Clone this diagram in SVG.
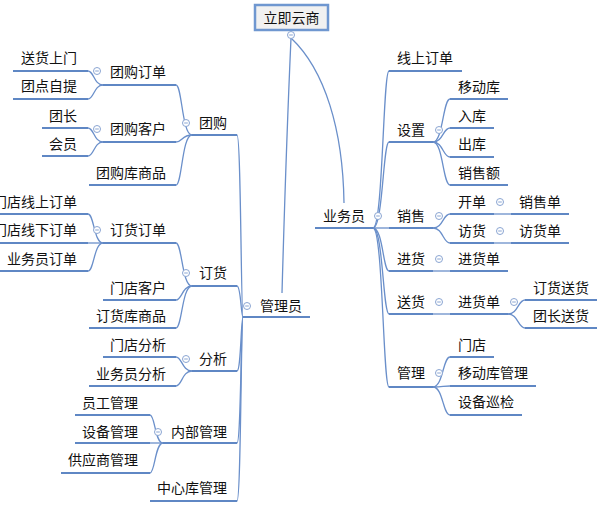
<svg xmlns="http://www.w3.org/2000/svg" xmlns:xlink="http://www.w3.org/1999/xlink" width="615" height="523" viewBox="0 0 615 523">
<style>
text{font-family:"Microsoft YaHei","Noto Sans CJK SC","Noto Sans",sans-serif;font-size:14px;fill:#111}
.l{text-anchor:end}
.u{stroke:#5f87c4;stroke-width:2;fill:none}
.c{stroke:#6a8fca;stroke-width:1.3;fill:none}
.col circle{fill:#fff;stroke:#8aa5d2;stroke-width:1}
.col line{stroke:#8aa5d2;stroke-width:1}
</style>
<defs>
<g id="col" class="col"><circle r="3.5"/><line x1="-1.8" y1="0" x2="1.8" y2="0"/></g>
</defs>
<rect width="615" height="523" fill="#fff"/>
<g id="connectors">
<path class="c" d="M291,38 Q286,150 282,293"/>
<path class="c" d="M291,38 C325,70 343,130 344,203"/>
<path class="c" d="M237,135 C241,135 241,317 243,317"/>
<path class="c" d="M237,286 C241,286 241,317 243,317"/>
<path class="c" d="M237,371 C241,371 241,317 243,317"/>
<path class="c" d="M237,443 C241,443 241,317 243,317"/>
<path class="c" d="M237,501 C241,501 241,317 243,317"/>
<path class="c" d="M176,85 C182,85 182,135 192,135"/>
<path class="c" d="M176,142 C182,142 182,135 192,135"/>
<path class="c" d="M176,185 C182,185 182,135 192,135"/>
<path class="c" d="M88,71 C94,71 94,85 103,85"/>
<path class="c" d="M88,99 C94,99 94,85 103,85"/>
<path class="c" d="M88,128 C94,128 94,142 103,142"/>
<path class="c" d="M88,156 C94,156 94,142 103,142"/>
<path class="c" d="M176,243 C182,243 182,286 192,286"/>
<path class="c" d="M176,300 C182,300 182,286 192,286"/>
<path class="c" d="M176,328 C182,328 182,286 192,286"/>
<path class="c" d="M88,214 C94,214 94,243 103,243"/>
<path class="c" d="M88,243 L103,243"/>
<path class="c" d="M88,271 C94,271 94,243 103,243"/>
<path class="c" d="M176,357 C182,357 182,371 192,371"/>
<path class="c" d="M176,386 C182,386 182,371 192,371"/>
<path class="c" d="M150,415 C155,415 155,443 163,443"/>
<path class="c" d="M150,443 L163,443"/>
<path class="c" d="M150,473 C155,473 155,443 163,443"/>
<path class="c" d="M373,228 C383,228 383,71 389,71"/>
<path class="c" d="M373,228 C383,228 383,142 389,142"/>
<path class="c" d="M373,228 L389,228"/>
<path class="c" d="M373,228 C383,228 383,271 389,271"/>
<path class="c" d="M373,228 C383,228 383,314 389,314"/>
<path class="c" d="M373,228 C383,228 383,387 389,387"/>
<path class="c" d="M433,142 C443,142 443,99 450,99"/>
<path class="c" d="M433,142 C443,142 443,128 450,128"/>
<path class="c" d="M433,142 C443,142 443,157 450,157"/>
<path class="c" d="M433,142 C443,142 443,185 450,185"/>
<path class="c" d="M433,228 C443,228 443,214 450,214"/>
<path class="c" d="M433,228 C443,228 443,243 450,243"/>
<path class="c" d="M494,214 L511,214"/>
<path class="c" d="M494,243 L511,243"/>
<path class="c" d="M433,271 L450,271"/>
<path class="c" d="M433,314 L450,314"/>
<path class="c" d="M508,314 C518,314 518,300 525,300"/>
<path class="c" d="M508,314 C518,314 518,328 525,328"/>
<path class="c" d="M433,387 C443,387 443,357 450,357"/>
<path class="c" d="M433,387 C443,387 443,386 450,386"/>
<path class="c" d="M433,387 C443,387 443,415 450,415"/>
</g>
<g id="root">
<rect x="255" y="5" width="73" height="25" fill="#f1f1f1" stroke="#6f97d0" stroke-width="2.5"/>
<text x="291.5" y="23" text-anchor="middle">立即云商</text>
<use xlink:href="#col" x="291" y="35"/>
</g>
<g id="n-guanliyuan"><text x="260" y="311">管理员</text><line class="u" x1="243" y1="317" x2="310" y2="317"/><use xlink:href="#col" x="247" y="306"/></g>
<g id="n-tuangou"><text class="l" x="227" y="128">团购</text><line class="u" x1="192" y1="135" x2="237" y2="135"/><use xlink:href="#col" x="186" y="123"/></g>
<g id="n-tuangoudingdan"><text class="l" x="166" y="77">团购订单</text><line class="u" x1="103" y1="85" x2="176" y2="85"/><use xlink:href="#col" x="97" y="71"/></g>
<g id="n-songhuoshangmen"><text class="l" x="77" y="63">送货上门</text><line class="u" x1="13" y1="71" x2="88" y2="71"/></g>
<g id="n-tuandianziti"><text class="l" x="77" y="91">团点自提</text><line class="u" x1="13" y1="99" x2="88" y2="99"/></g>
<g id="n-tuangoukehu"><text class="l" x="166" y="134">团购客户</text><line class="u" x1="103" y1="142" x2="176" y2="142"/><use xlink:href="#col" x="97" y="129"/></g>
<g id="n-tuanzhang"><text class="l" x="77" y="121">团长</text><line class="u" x1="42" y1="128" x2="88" y2="128"/></g>
<g id="n-huiyuan"><text class="l" x="77" y="149">会员</text><line class="u" x1="42" y1="156" x2="88" y2="156"/></g>
<g id="n-tuangoukushangpin"><text class="l" x="166" y="178">团购库商品</text><line class="u" x1="89" y1="185" x2="176" y2="185"/></g>
<g id="n-dinghuo"><text class="l" x="227" y="278">订货</text><line class="u" x1="192" y1="286" x2="237" y2="286"/><use xlink:href="#col" x="186" y="273"/></g>
<g id="n-dinghuodingdan"><text class="l" x="166" y="235">订货订单</text><line class="u" x1="103" y1="243" x2="176" y2="243"/><use xlink:href="#col" x="97" y="230"/></g>
<g id="n-mendianxianshang"><text class="l" x="77" y="207">门店线上订单</text><line class="u" x1="0" y1="214" x2="88" y2="214"/></g>
<g id="n-mendianxianxia"><text class="l" x="77" y="235">门店线下订单</text><line class="u" x1="0" y1="243" x2="88" y2="243"/></g>
<g id="n-yewuyuandingdan"><text class="l" x="77" y="264">业务员订单</text><line class="u" x1="0" y1="271" x2="88" y2="271"/></g>
<g id="n-mendiankehu"><text class="l" x="166" y="293">门店客户</text><line class="u" x1="103" y1="300" x2="176" y2="300"/></g>
<g id="n-dinghuokushangpin"><text class="l" x="166" y="321">订货库商品</text><line class="u" x1="89" y1="328" x2="176" y2="328"/></g>
<g id="n-fenxi"><text class="l" x="227" y="364">分析</text><line class="u" x1="192" y1="371" x2="237" y2="371"/><use xlink:href="#col" x="186" y="359"/></g>
<g id="n-mendianfenxi"><text class="l" x="166" y="350">门店分析</text><line class="u" x1="103" y1="357" x2="176" y2="357"/></g>
<g id="n-yewuyuanfenxi"><text class="l" x="166" y="379">业务员分析</text><line class="u" x1="89" y1="386" x2="176" y2="386"/></g>
<g id="n-neibuguanli"><text class="l" x="227" y="437">内部管理</text><line class="u" x1="163" y1="443" x2="237" y2="443"/><use xlink:href="#col" x="158" y="432"/></g>
<g id="n-yuangongguanli"><text class="l" x="138" y="408">员工管理</text><line class="u" x1="75" y1="415" x2="150" y2="415"/></g>
<g id="n-shebeiguanli"><text class="l" x="138" y="437">设备管理</text><line class="u" x1="75" y1="443" x2="150" y2="443"/></g>
<g id="n-gongyingshangguanli"><text class="l" x="138" y="465">供应商管理</text><line class="u" x1="61" y1="473" x2="150" y2="473"/></g>
<g id="n-zhongxinkuguanli"><text class="l" x="227" y="493">中心库管理</text><line class="u" x1="150" y1="501" x2="237" y2="501"/></g>
<g id="n-yewuyuan"><text x="323" y="221">业务员</text><line class="u" x1="315" y1="228" x2="373" y2="228"/><use xlink:href="#col" x="378" y="216"/></g>
<g id="n-xianshangdingdan"><text x="397" y="63">线上订单</text><line class="u" x1="389" y1="71" x2="462" y2="71"/></g>
<g id="n-shezhi"><text x="397" y="135">设置</text><line class="u" x1="389" y1="142" x2="433" y2="142"/><use xlink:href="#col" x="439" y="130"/></g>
<g id="n-yidongku"><text x="458" y="92">移动库</text><line class="u" x1="450" y1="99" x2="508" y2="99"/></g>
<g id="n-ruku"><text x="458" y="121">入库</text><line class="u" x1="450" y1="128" x2="494" y2="128"/></g>
<g id="n-chuku"><text x="458" y="149">出库</text><line class="u" x1="450" y1="157" x2="494" y2="157"/></g>
<g id="n-xiaoshoue"><text x="458" y="178">销售额</text><line class="u" x1="450" y1="185" x2="508" y2="185"/></g>
<g id="n-xiaoshou"><text x="397" y="221">销售</text><line class="u" x1="389" y1="228" x2="433" y2="228"/><use xlink:href="#col" x="439" y="216"/></g>
<g id="n-kaidan"><text x="458" y="207">开单</text><line class="u" x1="450" y1="214" x2="494" y2="214"/><use xlink:href="#col" x="500" y="202"/></g>
<g id="n-xiaoshoudan"><text x="519" y="207">销售单</text><line class="u" x1="511" y1="214" x2="569" y2="214"/></g>
<g id="n-fanghuo"><text x="458" y="236">访货</text><line class="u" x1="450" y1="243" x2="494" y2="243"/><use xlink:href="#col" x="500" y="231"/></g>
<g id="n-fanghuodan"><text x="519" y="236">访货单</text><line class="u" x1="511" y1="243" x2="569" y2="243"/></g>
<g id="n-jinhuo"><text x="397" y="264">进货</text><line class="u" x1="389" y1="271" x2="433" y2="271"/><use xlink:href="#col" x="439" y="259"/></g>
<g id="n-jinhuodan1"><text x="458" y="264">进货单</text><line class="u" x1="450" y1="271" x2="508" y2="271"/></g>
<g id="n-songhuo"><text x="397" y="307">送货</text><line class="u" x1="389" y1="314" x2="433" y2="314"/><use xlink:href="#col" x="439" y="302"/></g>
<g id="n-jinhuodan2"><text x="458" y="307">进货单</text><line class="u" x1="450" y1="314" x2="508" y2="314"/><use xlink:href="#col" x="514" y="302"/></g>
<g id="n-dinghuosonghuo"><text x="533" y="293">订货送货</text><line class="u" x1="525" y1="300" x2="597" y2="300"/></g>
<g id="n-tuanzhangsonghuo"><text x="533" y="321">团长送货</text><line class="u" x1="525" y1="328" x2="597" y2="328"/></g>
<g id="n-guanli"><text x="397" y="378">管理</text><line class="u" x1="389" y1="387" x2="433" y2="387"/><use xlink:href="#col" x="439" y="373"/></g>
<g id="n-mendian"><text x="458" y="350">门店</text><line class="u" x1="450" y1="357" x2="494" y2="357"/></g>
<g id="n-yidongkuguanli"><text x="458" y="378">移动库管理</text><line class="u" x1="450" y1="386" x2="536" y2="386"/></g>
<g id="n-shebeixunjian"><text x="458" y="407">设备巡检</text><line class="u" x1="450" y1="415" x2="522" y2="415"/></g>
</svg>
